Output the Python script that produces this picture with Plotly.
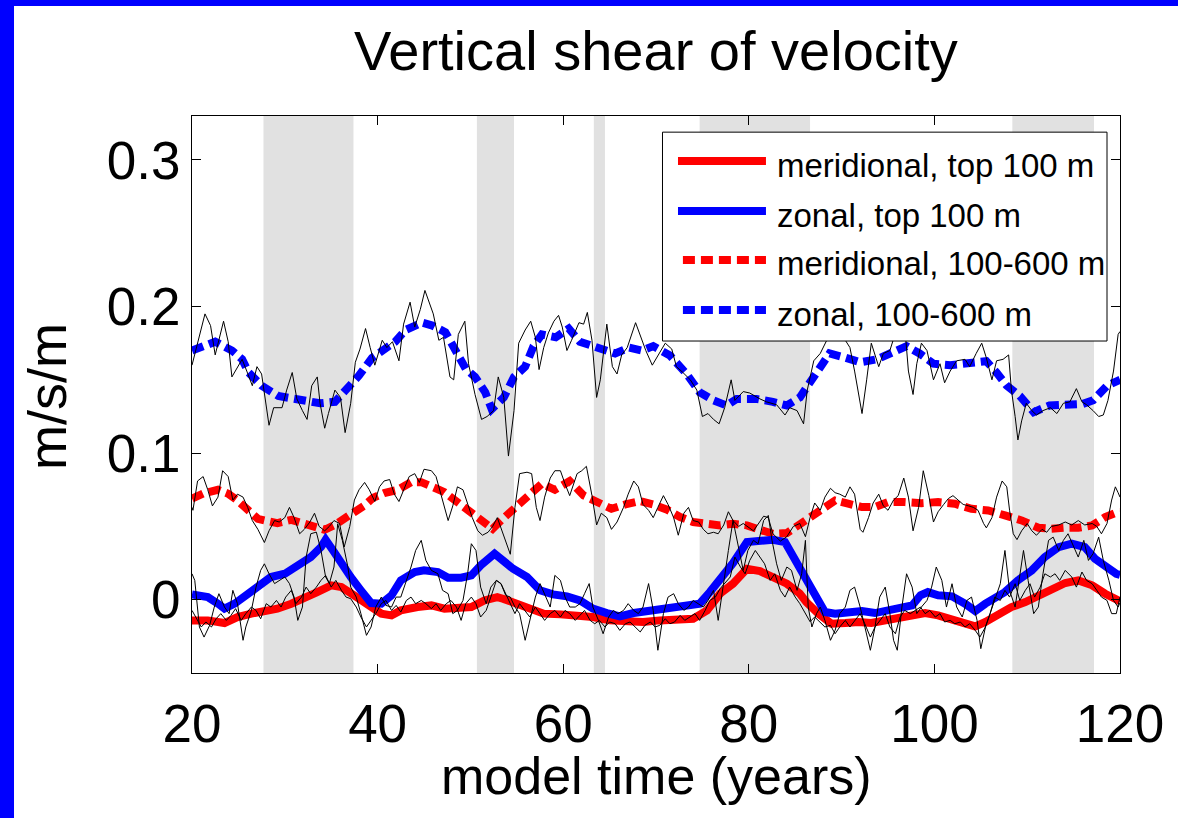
import plotly.graph_objects as go

# ---------------- data ----------------
years_ticks = [20, 40, 60, 80, 100, 120]
y_ticks = [0, 0.1, 0.2, 0.3]
y_ticktext = ["0", "0.1", "0.2", "0.3"]

shade_start = [27.7, 50.7, 63.3, 74.7, 108.4]
shade_end = [37.4, 54.7, 64.5, 86.6, 117.2]

legend_labels = ["meridional, top 100 m", "zonal, top 100 m",
                 "meridional, 100-600 m", "zonal, 100-600 m"]

# smoothed series
t_mt = [20.0, 21.7, 23.5, 24.9, 26.4, 27.8, 29.2, 30.7, 32.1, 33.5, 35.0, 36.1, 37.1, 38.2, 39.3, 40.4, 41.5, 42.5, 44.3, 45.8,
        47.2, 48.6, 50.1, 51.5, 52.9, 53.5, 55.0, 56.4, 57.9, 59.7, 61.5, 63.2, 65.0, 66.8, 68.6, 70.4, 72.2, 74.0, 75.5, 76.9,
        78.3, 79.8, 81.2, 82.6, 84.1, 85.5, 86.2, 87.5, 88.9, 90.4, 91.8, 93.2, 94.7, 96.1, 97.6, 99.0, 100.4, 101.9, 103.3, 104.4,
        105.5, 106.9, 108.3, 109.8, 111.2, 112.6, 114.1, 115.5, 117.0, 118.4, 119.6, 120.0]
v_mt = [-0.0141, -0.0141, -0.0159, -0.0118, -0.0095, -0.0077, -0.0061, -0.0027, 0.0007, 0.0052, 0.0098, 0.0086, 0.0045, -0.0005, -0.0061, -0.0095, -0.0107, -0.0073, -0.005, -0.0039,
        -0.0061, -0.0061, -0.005, -0.0005, 0.0018, 0.0007, -0.0027, -0.0068, -0.0095, -0.010, -0.0107, -0.0118, -0.0141, -0.0152, -0.0152, -0.0141, -0.0141, -0.013, -0.0073, 0.0041,
        0.0109, 0.0211, 0.0195, 0.0155, 0.0109, 0.0041, -0.0016, -0.0095, -0.0164, -0.0159, -0.0152, -0.0159, -0.0141, -0.0118, -0.010, -0.0091, -0.0107, -0.013, -0.0159, -0.0182,
        -0.0152, -0.0095, -0.005, -0.0016, 0.003, 0.0075, 0.0114, 0.0132, 0.0098, 0.0041, -0.0005, -0.001]

t_zt = [20.0, 21.7, 22.8, 23.5, 24.6, 26.0, 27.4, 28.5, 30.0, 31.4, 32.8, 33.9, 34.4, 35.2, 36.1, 37.1, 38.2, 39.3, 40.4, 41.5,
        42.5, 44.0, 45.0, 46.5, 47.6, 49.0, 50.1, 51.1, 52.6, 53.4, 54.6, 56.1, 57.5, 58.9, 60.4, 61.8, 63.2, 64.7, 66.1, 67.6,
        69.0, 70.4, 71.9, 73.3, 74.7, 75.8, 76.9, 78.3, 79.8, 81.2, 82.6, 83.9, 84.8, 85.9, 87.0, 88.2, 89.3, 90.7, 92.2, 93.6,
        95.0, 96.5, 97.6, 98.5, 99.3, 100.4, 101.9, 103.3, 104.4, 105.5, 106.5, 107.6, 109.0, 110.5, 111.9, 113.4, 114.8, 116.2, 117.3, 118.4,
        119.6, 120.0]
v_zt = [0.0036, 0.0018, -0.0027, -0.0061, -0.0027, 0.0041, 0.0098, 0.0155, 0.0177, 0.0234, 0.0291, 0.0359, 0.0409, 0.0336, 0.0245, 0.0155, 0.0064, -0.0023, -0.0027, 0.003,
        0.0132, 0.0189, 0.020, 0.0189, 0.015, 0.015, 0.0166, 0.0234, 0.0314, 0.027, 0.0211, 0.0155, 0.0064, 0.0036, 0.0023, -0.0005, -0.0061, -0.0091, -0.0114, -0.0091,
        -0.0077, -0.0068, -0.0061, -0.0039, -0.0027, 0.0052, 0.0132, 0.025, 0.0393, 0.0405, 0.0409, 0.0393, 0.0291, 0.0155, 0.003, -0.0084, -0.0095, -0.0084, -0.0077, -0.0091,
        -0.0073, -0.0061, -0.0039, 0.003, 0.0052, 0.003, 0.0023, -0.0027, -0.0077, -0.0027, 0.0007, 0.0052, 0.0132, 0.020, 0.0291, 0.0359, 0.0382, 0.0359, 0.028, 0.0223,
        0.0177, 0.017]

t_md = [20.0, 20.3, 21.3, 22.8, 23.9, 24.9, 26.0, 27.1, 28.2, 29.2, 30.7, 32.1, 33.2, 34.3, 35.3, 36.4, 37.5, 38.6, 39.5, 40.7,
        42.2, 43.6, 44.7, 45.8, 47.2, 48.6, 49.7, 51.1, 52.4, 53.3, 55.0, 56.4, 57.7, 59.1, 60.7, 62.2, 63.6, 65.2, 66.7, 68.3,
        69.7, 71.2, 72.6, 74.0, 75.5, 76.9, 78.3, 79.8, 81.2, 82.6, 84.1, 85.2, 86.2, 87.9, 89.3, 90.7, 92.2, 93.6, 95.0, 96.8,
        98.6, 100.4, 102.2, 104.0, 105.8, 107.6, 109.4, 111.2, 112.6, 114.1, 115.5, 117.0, 118.4, 119.8, 120.0]
v_md = [0.069, 0.070, 0.0727, 0.075, 0.0723, 0.0677, 0.0609, 0.0552, 0.0536, 0.0523, 0.0545, 0.0518, 0.0491, 0.0477, 0.0507, 0.0559, 0.0598, 0.0643, 0.0695, 0.0727,
        0.075, 0.0802, 0.0802, 0.0773, 0.0734, 0.0666, 0.0609, 0.0541, 0.0484, 0.0541, 0.0632, 0.0723, 0.0791, 0.075, 0.0809, 0.0711, 0.0666, 0.062, 0.065, 0.0673,
        0.065, 0.0614, 0.0564, 0.053, 0.0518, 0.0507, 0.0518, 0.0507, 0.0477, 0.045, 0.0455, 0.050, 0.0541, 0.062, 0.0677, 0.0655, 0.0632, 0.0632, 0.0666, 0.0666,
        0.0659, 0.0666, 0.0655, 0.062, 0.0609, 0.0575, 0.0541, 0.0491, 0.0484, 0.0491, 0.0491, 0.0507, 0.0564, 0.0598, 0.060]

t_zd = [20.0, 20.4, 22.5, 24.3, 25.4, 26.1, 27.5, 29.3, 30.8, 32.2, 33.8, 35.4, 36.7, 38.0, 39.4, 40.7, 41.9, 43.0, 44.8, 45.9,
        47.3, 48.4, 49.5, 50.5, 51.6, 52.3, 53.6, 54.7, 55.9, 56.8, 57.7, 59.2, 60.6, 61.8, 63.5, 65.6, 67.1, 68.5, 69.7, 71.5,
        73.3, 74.7, 76.2, 77.6, 78.7, 80.8, 82.6, 84.1, 85.5, 86.6, 87.7, 88.7, 90.2, 92.0, 93.8, 95.6, 97.0, 98.4, 99.9, 101.7,
        103.8, 105.6, 106.7, 107.8, 109.2, 110.7, 112.4, 114.3, 116.0, 117.1, 118.6, 119.8, 120.0]
v_zd = [0.170, 0.171, 0.176, 0.170, 0.164, 0.155, 0.146, 0.139, 0.137, 0.136, 0.134, 0.135, 0.144, 0.153, 0.165, 0.171, 0.176, 0.184, 0.189, 0.187,
        0.1825, 0.170, 0.1575, 0.152, 0.1415, 0.130, 0.138, 0.152, 0.159, 0.173, 0.181, 0.179, 0.185, 0.176, 0.172, 0.168, 0.172, 0.170, 0.173, 0.1666,
        0.154, 0.1416, 0.136, 0.1325, 0.137, 0.137, 0.135, 0.1325, 0.138, 0.148, 0.1575, 0.168, 0.1655, 0.162, 0.164, 0.169, 0.173, 0.168, 0.161, 0.160,
        0.162, 0.1627, 0.155, 0.146, 0.139, 0.128, 0.1325, 0.1336, 0.1336, 0.136, 0.146, 0.1495, 0.150]

# raw (unsmoothed) series as (year, value) pairs
raw_mt = [(20.0,-0.0073),(20.4,-0.0118),(21.0,-0.0186),(21.5,-0.0152),(22.1,-0.0186),(22.6,-0.013),(23.1,-0.0095),(23.7,-0.0141),(24.2,-0.0107),(24.7,-0.0061),
          (25.3,-0.0141),(25.8,-0.0095),(26.4,-0.005),(26.9,-0.0073),(27.4,-0.013),(28.0,-0.0027),(28.5,-0.005),(29.1,-0.0005),(29.6,-0.005),(30.1,0.0018),
          (30.7,0.0064),(31.2,-0.0027),(31.8,0.0018),(32.3,0.0086),(32.8,0.0041),(33.4,0.0086),(33.9,0.0132),(34.4,0.0166),(35.0,0.0086),(35.5,0.0132),
          (36.1,0.0064),(36.6,0.0018),(37.1,0.0007),(37.7,-0.005),(38.2,-0.0118),(38.8,-0.0186),(39.3,-0.0141),(39.8,-0.0095),(40.4,-0.0027),(40.9,-0.0005),
          (41.5,-0.0073),(42.0,-0.0039),(42.5,-0.0084),(43.1,-0.0005),(43.6,0.0018),(44.1,-0.0027),(44.7,-0.0005),(45.2,-0.0027),(45.8,-0.0061),(46.3,-0.0027),
          (46.8,-0.0073),(47.4,-0.0027),(47.9,-0.0005),(48.5,-0.005),(49.0,-0.0141),(49.5,-0.0027),(50.1,0.0018),(50.6,-0.0027),(51.1,-0.0118),(51.7,-0.0073),
          (52.2,0.0018),(52.8,0.0132),(53.3,0.0109),(53.8,0.0041),(54.3,-0.0027),(54.8,-0.0095),(55.3,-0.0027),(55.9,-0.0073),(56.4,-0.0118),(57.0,-0.005),
          (57.5,-0.0095),(58.0,-0.0141),(58.6,-0.0095),(59.1,-0.0073),(59.7,-0.0118),(60.2,-0.0073),(60.7,-0.0095),(61.3,-0.0141),(61.8,-0.0107),(62.3,-0.0073),
          (62.9,-0.0141),(63.4,-0.0164),(63.9,-0.0141),(64.5,-0.0186),(65.0,-0.0152),(65.6,-0.0164),(66.1,-0.0209),(66.7,-0.0164),(67.2,-0.0152),(67.7,-0.0186),
          (68.3,-0.022),(68.8,-0.0175),(69.4,-0.0152),(69.9,-0.0186),(70.4,-0.0175),(71.0,-0.013),(71.5,-0.0164),(72.0,-0.0152),(72.6,-0.0107),(73.1,-0.0141),
          (73.7,-0.0118),(74.2,-0.0095),(74.7,-0.0141),(75.3,-0.0073),(75.8,-0.0005),(76.4,0.0018),(76.9,0.0075),(77.4,0.0109),(78.0,0.0155),(78.5,0.0291),
          (79.1,0.0223),(79.6,0.0177),(80.1,0.0268),(80.7,0.0336),(81.2,0.0291),(81.7,0.0245),(82.3,0.0132),(82.8,0.0177),(83.4,0.0064),(83.9,0.0018),
          (84.4,0.0086),(85.0,0.0018),(85.5,-0.0027),(86.1,-0.0095),(86.6,-0.015),(87.1,-0.0118),(87.7,-0.0152),(88.2,-0.0186),(88.8,-0.0175),(89.3,-0.0232),
          (89.8,-0.0186),(90.4,-0.0141),(90.9,-0.0186),(91.4,-0.0141),(92.0,-0.0095),(92.5,-0.0164),(93.1,-0.0255),(93.6,-0.0186),(94.1,-0.0141),(94.7,-0.0095),
          (95.2,-0.0186),(95.8,-0.0232),(96.3,-0.0118),(96.8,-0.0073),(97.4,-0.0095),(97.9,-0.0073),(98.5,-0.005),(99.0,-0.0095),(99.5,-0.0073),(100.1,-0.0118),
          (100.6,-0.0095),(101.1,-0.0152),(101.7,-0.0141),(102.2,-0.0164),(102.8,-0.0152),(103.3,-0.0186),(103.8,-0.0164),(104.4,-0.0209),(104.9,-0.0255),(105.5,-0.0186),
          (106.0,-0.0095),(106.5,0.0018),(107.1,-0.0005),(107.6,0.0064),(108.1,0.0018),(108.7,0.0109),(109.2,-0.0005),(109.8,0.0064),(110.3,0.0109),(110.8,0.0018),
          (111.4,0.0086),(111.9,0.0177),(112.5,0.0155),(113.0,0.0177),(113.5,0.0132),(114.1,0.020),(114.8,0.0155),(115.3,0.0086),(115.9,0.0189),(116.4,0.0132),
          (117.0,0.0109),(117.5,0.0064),(118.0,0.0018),(118.6,-0.0005),(119.1,-0.0095),(119.6,-0.0095),(120.0,0.0018)]

raw_zt = [(20.0,0.0177),(20.3,0.0132),(20.8,-0.0186),(21.3,-0.0255),(21.9,-0.0175),(22.4,-0.005),(22.9,0.0041),(23.5,-0.005),(24.0,-0.0095),(24.4,0.0064),
          (24.9,-0.0027),(25.5,-0.0277),(25.8,-0.0186),(26.4,-0.0073),(26.9,0.0086),(27.4,0.020),(27.8,0.0245),(28.3,0.0177),(28.9,0.011),(29.4,0.0132),
          (30.0,0.0155),(30.5,0.011),(31.0,0.0018),(31.4,-0.0141),(31.9,-0.005),(32.3,0.0291),(32.8,0.045),(33.4,0.0461),(33.9,0.0336),(34.4,0.0155),
          (34.8,0.011),(35.3,0.0223),(35.7,0.0518),(36.2,0.0405),(36.8,0.0223),(37.1,0.0086),(37.7,0.0018),(38.2,-0.0095),(38.8,-0.0243),(39.3,-0.0186),
          (39.8,-0.005),(40.4,0.0018),(40.9,-0.0039),(41.5,-0.005),(42.0,0.0018),(42.5,0.0018),(43.1,0.0132),(43.6,0.0223),(44.1,0.0336),(44.7,0.0405),
          (45.2,0.0268),(45.8,0.020),(46.5,0.0177),(47.0,0.0064),(47.6,0.0041),(48.1,-0.0095),(48.6,-0.0073),(49.2,-0.0005),(49.7,0.0177),(50.1,0.0382),
          (50.6,0.0336),(51.1,0.0086),(51.7,-0.0027),(52.2,0.0086),(52.8,0.0132),(53.3,0.0109),(53.8,0.003),(54.3,0.0018),(54.8,-0.005),(55.3,-0.0095),
          (55.9,-0.0277),(56.4,-0.0141),(57.0,0.0018),(57.5,0.011),(58.0,0.0041),(58.6,-0.005),(59.1,0.0166),(59.7,0.0132),(60.2,0.0018),(60.7,-0.005),
          (61.3,-0.005),(61.8,-0.0027),(62.3,0.0041),(62.8,0.011),(63.2,-0.005),(63.8,-0.0141),(64.3,-0.0232),(64.9,-0.0118),(65.4,-0.0073),(65.9,-0.0095),
          (66.5,-0.0073),(67.0,-0.0027),(67.6,-0.0073),(68.1,-0.0095),(68.6,-0.005),(69.2,0.011),(69.7,-0.0073),(70.2,-0.0345),(70.8,-0.0095),(71.3,0.0018),
          (71.9,0.0041),(72.4,-0.0027),(73.0,-0.0073),(73.5,-0.005),(74.0,-0.0005),(74.6,-0.0027),(75.1,-0.005),(75.6,-0.0005),(76.2,0.0064),(76.7,-0.0141),
          (77.3,0.0132),(77.8,0.0336),(78.3,0.0541),(78.9,0.0359),(79.4,0.020),(79.9,0.0336),(80.5,0.0405),(81.0,0.0382),(81.6,0.0541),(82.1,0.0575),
          (82.5,0.0405),(83.0,0.0245),(83.5,0.0132),(84.1,0.0223),(84.6,0.020),(85.2,0.0064),(85.7,0.0177),(86.1,0.0405),(86.4,-0.005),(86.8,-0.0186),
          (87.3,-0.0095),(87.7,-0.005),(88.2,-0.0141),(88.8,-0.0277),(89.3,-0.0209),(89.8,-0.0095),(90.4,-0.005),(90.9,0.0064),(91.4,0.0086),(92.0,-0.005),
          (92.5,-0.0186),(93.1,-0.0345),(93.6,-0.0186),(94.1,0.0018),(94.7,0.0086),(95.2,-0.0095),(95.6,-0.0277),(96.0,-0.0345),(96.5,-0.005),(97.0,0.0177),
          (97.6,0.0086),(98.1,-0.0095),(98.6,-0.005),(99.2,-0.0005),(99.7,0.0086),(100.2,0.0223),(100.8,0.0132),(101.3,-0.005),(101.9,0.0109),(102.4,-0.005),
          (103.0,-0.0118),(103.5,-0.0005),(104.0,0.0018),(104.6,-0.0141),(105.0,-0.0334),(105.5,-0.0186),(106.0,-0.0095),(106.5,-0.0005),(107.1,0.0109),(107.6,0.0336),
          (108.1,0.0064),(108.7,-0.005),(109.2,0.0177),(109.6,0.0336),(110.1,0.0132),(110.7,-0.0095),(111.2,-0.005),(111.7,0.0177),(112.3,0.0405),(112.8,0.0427),
          (113.4,0.0336),(113.9,0.0405),(114.4,0.045),(115.0,0.0359),(115.5,0.0291),(116.1,0.0405),(116.6,0.0268),(117.1,0.0314),(117.7,0.0427),(118.2,0.0268),
          (118.8,0.0132),(119.3,-0.0005),(119.8,-0.005),(120.0,-0.002)]

raw_md = [(20.0,0.063),(20.1,0.061),(20.6,0.081),(21.2,0.084),(21.7,0.075),(22.2,0.064),(22.8,0.070),(23.3,0.088),(23.9,0.084),(24.4,0.068),
          (24.9,0.072),(25.5,0.070),(26.0,0.063),(26.5,0.054),(27.1,0.048),(27.8,0.039),(28.3,0.047),(28.9,0.054),(29.4,0.053),(30.0,0.056),
          (30.5,0.063),(31.0,0.056),(31.6,0.045),(32.1,0.048),(32.7,0.053),(33.2,0.059),(33.7,0.050),(34.3,0.047),(34.8,0.050),(35.3,0.054),
          (35.9,0.052),(36.4,0.036),(37.0,0.050),(37.5,0.068),(38.0,0.075),(38.6,0.080),(39.1,0.075),(39.7,0.067),(40.2,0.077),(40.7,0.081),
          (41.3,0.082),(41.8,0.072),(42.3,0.067),(42.9,0.077),(43.4,0.084),(44.0,0.086),(44.5,0.080),(45.0,0.089),(45.8,0.088),(46.3,0.084),
          (46.8,0.072),(47.6,0.054),(48.1,0.064),(48.6,0.077),(49.2,0.075),(49.7,0.066),(50.2,0.056),(50.8,0.047),(51.3,0.044),(51.9,0.046),
          (52.4,0.050),(52.9,0.056),(53.5,0.045),(54.0,0.037),(54.3,0.031),(54.8,0.063),(55.3,0.086),(56.1,0.087),(56.6,0.086),(57.1,0.063),
          (57.5,0.054),(58.0,0.070),(58.6,0.083),(59.1,0.088),(59.7,0.088),(60.2,0.079),(60.7,0.071),(61.5,0.086),(62.0,0.088),(62.5,0.091),
          (63.1,0.071),(63.6,0.051),(64.1,0.059),(64.7,0.056),(65.2,0.048),(65.8,0.053),(66.5,0.063),(67.0,0.072),(67.6,0.081),(68.1,0.077),
          (68.6,0.065),(69.2,0.061),(69.7,0.056),(70.2,0.063),(70.8,0.071),(71.3,0.065),(71.9,0.056),(72.4,0.044),(73.0,0.059),(73.5,0.063),
          (74.0,0.054),(74.6,0.053),(75.1,0.048),(75.6,0.045),(76.2,0.046),(76.7,0.045),(77.3,0.051),(77.8,0.060),(78.3,0.054),(78.9,0.050),
          (79.4,0.052),(80.5,0.047),(81.6,0.057),(82.1,0.056),(82.6,0.045),(83.4,0.040),(84.1,0.043),(84.8,0.050),(85.5,0.052),(86.1,0.043),
          (86.6,0.056),(87.1,0.066),(87.7,0.061),(88.2,0.070),(88.8,0.076),(89.3,0.073),(89.8,0.072),(90.4,0.070),(90.9,0.077),(91.4,0.072),
          (92.0,0.048),(92.3,0.046),(92.9,0.056),(93.4,0.066),(94.0,0.072),(94.5,0.064),(95.0,0.061),(95.6,0.068),(96.1,0.071),(96.7,0.083),
          (97.2,0.070),(97.7,0.047),(98.3,0.063),(98.8,0.088),(99.4,0.071),(99.9,0.053),(100.4,0.060),(101.0,0.065),(101.5,0.069),(102.0,0.071),
          (102.6,0.068),(103.1,0.065),(103.7,0.064),(104.2,0.063),(104.7,0.061),(105.3,0.052),(105.6,0.049),(106.2,0.056),(106.7,0.070),(107.3,0.081),
          (107.8,0.077),(108.1,0.061),(108.5,0.045),(108.9,0.041),(109.4,0.047),(110.0,0.052),(110.5,0.047),(111.0,0.044),(111.6,0.048),(112.1,0.046),
          (112.6,0.050),(113.4,0.051),(114.1,0.053),(114.8,0.051),(115.5,0.054),(116.2,0.051),(117.0,0.052),(117.5,0.050),(118.0,0.045),(118.6,0.052),
          (119.1,0.068),(119.5,0.077),(119.8,0.073),(120.0,0.070)]

raw_zd = [(20.0,0.160),(21.4,0.195),(22.0,0.187),(22.5,0.167),(23.4,0.190),(23.9,0.176),(24.3,0.152),(25.4,0.164),(25.9,0.156),(26.5,0.146),
          (27.0,0.159),(27.5,0.154),(28.3,0.119),(28.8,0.131),(29.7,0.131),(30.2,0.143),(30.8,0.155),(31.3,0.137),(31.9,0.129),(32.4,0.123),
          (32.9,0.146),(33.5,0.152),(33.8,0.134),(34.3,0.117),(34.7,0.127),(35.4,0.143),(36.0,0.138),(36.5,0.114),(37.1,0.134),(37.6,0.162),
          (38.1,0.171),(38.7,0.185),(39.2,0.172),(39.7,0.160),(40.5,0.177),(41.0,0.172),(41.6,0.176),(42.3,0.163),(42.8,0.188),(43.5,0.203),
          (44.0,0.186),(44.6,0.198),(45.1,0.211),(45.6,0.202),(46.0,0.195),(46.6,0.177),(47.1,0.179),(47.8,0.152),(48.2,0.150),(48.7,0.181),
          (49.4,0.190),(49.8,0.161),(50.5,0.140),(51.2,0.123),(51.8,0.125),(52.5,0.129),(53.0,0.152),(53.6,0.138),(54.1,0.098),(54.7,0.129),
          (55.2,0.175),(55.9,0.184),(56.5,0.190),(57.0,0.179),(57.4,0.157),(57.9,0.172),(58.4,0.182),(59.0,0.190),(59.5,0.194),(59.9,0.186),
          (60.4,0.170),(60.9,0.177),(61.7,0.189),(62.2,0.188),(62.6,0.196),(63.1,0.177),(63.6,0.138),(64.0,0.150),(64.7,0.188),(65.3,0.159),
          (65.8,0.154),(66.3,0.167),(66.9,0.172),(67.8,0.189),(68.3,0.180),(68.9,0.170),(69.6,0.160),(70.4,0.169),(71.0,0.175),(71.7,0.171),
          (72.2,0.159),(72.9,0.155),(73.7,0.150),(74.4,0.143),(75.0,0.125),(75.6,0.127),(76.2,0.123),(76.8,0.120),(77.4,0.131),(78.1,0.150),
          (78.5,0.136),(79.4,0.142),(80.1,0.141),(81.2,0.137),(81.9,0.135),(83.0,0.133),(83.9,0.126),(84.4,0.131),(85.2,0.129),(85.9,0.120),
          (86.3,0.143),(87.0,0.163),(87.7,0.168),(88.4,0.177),(88.9,0.182),(89.5,0.188),(90.2,0.179),(90.9,0.172),(91.4,0.156),(92.2,0.127),
          (92.7,0.150),(93.2,0.175),(94.0,0.159),(94.5,0.168),(95.2,0.170),(95.9,0.184),(96.3,0.190),(96.6,0.202),(97.2,0.156),(97.7,0.140),
          (98.1,0.161),(98.6,0.175),(99.2,0.170),(99.9,0.150),(100.6,0.161),(101.1,0.148),(101.7,0.156),(102.4,0.163),(103.3,0.164),(103.8,0.159),
          (104.5,0.168),(105.1,0.175),(105.6,0.165),(106.2,0.150),(106.7,0.163),(107.4,0.164),(108.0,0.167),(108.3,0.143),(108.7,0.125),(109.0,0.109),
          (109.4,0.122),(109.9,0.134),(110.5,0.129),(111.0,0.126),(111.7,0.129),(112.5,0.131),(113.2,0.127),(113.9,0.134),(114.6,0.135),(115.3,0.144),
          (115.9,0.135),(116.4,0.133),(117.1,0.129),(117.7,0.125),(118.2,0.126),(118.7,0.136),(119.3,0.156),(119.8,0.181),(120.0,0.183)]

# ---------------- styles ----------------
RED = "#ff0000"
BLUE = "#0000ff"
FONT = "Liberation Sans, Arial, Helvetica, sans-serif"
THICK = 8
DASH = "12px,6px"

fig = go.Figure()

smooth = [
    (t_md, v_md, RED, DASH),
    (t_zd, v_zd, BLUE, DASH),
    (t_mt, v_mt, RED, "solid"),
    (t_zt, v_zt, BLUE, "solid"),
]
for t, v, c, d in smooth:
    fig.add_trace(go.Scatter(x=t, y=v, mode="lines",
                             line=dict(color=c, width=THICK, dash=d),
                             showlegend=False, hoverinfo="skip"))

for raw in (raw_md, raw_zd, raw_mt, raw_zt):
    t, v = zip(*raw)
    fig.add_trace(go.Scatter(x=list(t), y=list(v), mode="lines",
                             line=dict(color="black", width=1),
                             showlegend=False, hoverinfo="skip"))

shapes = []
# shaded periods
for s, e in zip(shade_start, shade_end):
    shapes.append(dict(type="rect", xref="x", yref="paper", x0=s, x1=e, y0=0, y1=1,
                       fillcolor="#e1e1e1", line=dict(width=0), layer="below"))

# blue frame of the slide (left and top strips)
shapes.append(dict(type="rect", xref="paper", yref="paper", x0=-0.2069, x1=-0.1918,
                   y0=-0.2603, y1=1.2083, fillcolor=BLUE, line=dict(width=0), layer="above"))
shapes.append(dict(type="rect", xref="paper", yref="paper", x0=-0.2069, x1=1.0625,
                   y0=1.1975, y1=1.2083, fillcolor=BLUE, line=dict(width=0), layer="above"))

# legend box (drawn manually to match long sample lines)
lx0, lx1, ly0, ly1 = 0.507, 0.986, 0.596, 0.971
shapes.append(dict(type="rect", xref="paper", yref="paper", x0=lx0, x1=lx1, y0=ly0, y1=ly1,
                   fillcolor="white", line=dict(color="black", width=1), layer="above"))
rows = [0.919, 0.8294, 0.7415, 0.6517]
samples = [(RED, "solid"), (BLUE, "solid"), (RED, DASH), (BLUE, DASH)]
annotations = []
for (c, d), yy, lab in zip(samples, rows, legend_labels):
    xs0 = 0.5237 if d == "solid" else 0.529
    shapes.append(dict(type="line", xref="paper", yref="paper", x0=xs0, x1=0.6185, y0=yy, y1=yy,
                       line=dict(color=c, width=8, dash=d), layer="above"))
    annotations.append(dict(xref="paper", yref="paper", x=0.628, y=yy, text=lab,
                            showarrow=False, xanchor="left", yanchor="middle", yshift=-4,
                            font=dict(family=FONT, size=33, color="black")))

annotations.append(dict(xref="paper", yref="paper", x=0.5, y=1.117,
                        text="Vertical shear of velocity", showarrow=False,
                        xanchor="center", yanchor="middle",
                        font=dict(family=FONT, size=56, color="black")))
annotations.append(dict(xref="paper", yref="paper", x=0.5, y=-0.1849,
                        text="model time (years)", showarrow=False,
                        xanchor="center", yanchor="middle",
                        font=dict(family=FONT, size=52, color="black")))
annotations.append(dict(xref="paper", yref="paper", x=-0.15625, y=0.4955,
                        text="m/s/m", showarrow=False, textangle=-90,
                        xanchor="center", yanchor="middle",
                        font=dict(family=FONT, size=54, color="black")))

axis_common = dict(showgrid=False, zeroline=False, showline=True, linecolor="black",
                   linewidth=1, mirror="ticks", ticks="inside", ticklen=9,
                   tickcolor="black", tickwidth=1,
                   tickfont=dict(family=FONT, size=53, color="black"))

fig.update_layout(
    width=1180, height=818,
    margin=dict(l=192, r=60, t=116, b=145, pad=0),
    paper_bgcolor="white", plot_bgcolor="white",
    xaxis=dict(range=[20, 120], tickvals=years_ticks, ticklabelstandoff=4, **axis_common),
    yaxis=dict(range=[-0.05, 0.33], tickvals=y_ticks, ticktext=y_ticktext,
               ticklabelstandoff=0, **axis_common),
    shapes=shapes, annotations=annotations, showlegend=False,
)

fig.write_html("out.html", config={"displayModeBar": False, "staticPlot": True})
